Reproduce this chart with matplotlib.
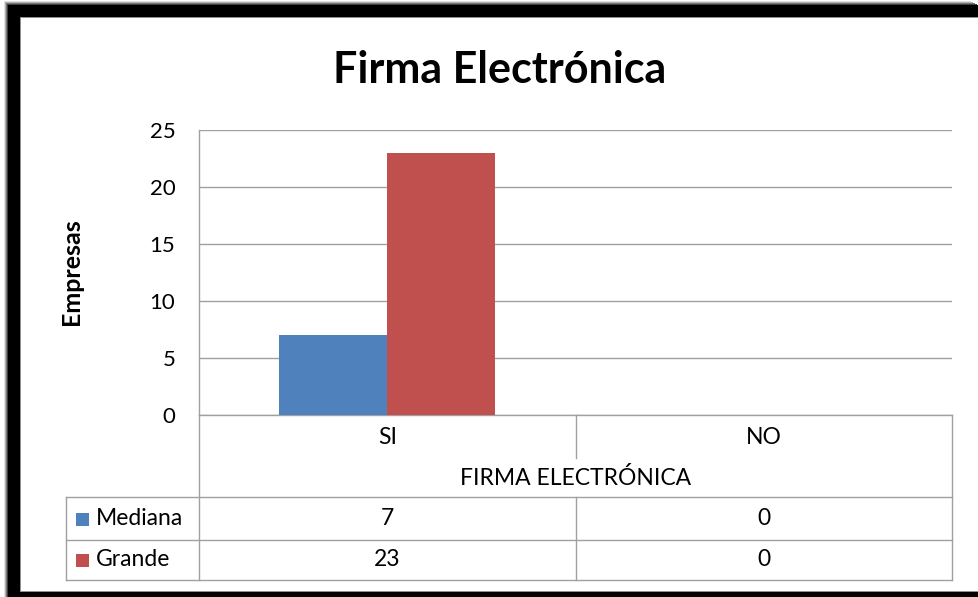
import matplotlib
matplotlib.use("Agg")
import matplotlib.pyplot as plt
from matplotlib.lines import Line2D
from matplotlib.patches import Rectangle

plt.rcParams['font.family'] = ['Lato', 'DejaVu Sans']

# ---- data ----
title = "Firma Electrónica"
ylabel = "Empresas"
group_label = "FIRMA ELECTRÓNICA"
categories = ["SI", "NO"]
series_names = ["Mediana", "Grande"]
mediana = [7, 0]
grande = [23, 0]
series_values = [mediana, grande]
series_colors = ["#4F81BD", "#C0504D"]
yticks = [0, 5, 10, 15, 20, 25]

W, H = 979, 597
fig = plt.figure(figsize=(W / 100, H / 100), dpi=100)
fig.patch.set_facecolor("white")


def P(x, y):
    return (x / W, 1 - y / H)


def box(x0, y0, x1, y1, color, z=0):
    fig.add_artist(Rectangle((x0 / W, 1 - y1 / H), (x1 - x0) / W, (y1 - y0) / H,
                             transform=fig.transFigure, facecolor=color,
                             edgecolor="none", zorder=z))


# ---- outer frame: top, left and bottom strips with a soft shadow ----
for i, g in enumerate(["#e0e0e0", "#b0b0b0", "#787878", "#404040"]):
    box(4 + i, 1 + i, W - 8 + 2 * i, 17, g)       # top shadow
    box(4 + i, 1 + i, 20, H, g)                     # left shadow
box(8, 5, W - 1, 17, "black")
box(8, 5, 20, H, "black")
box(8, 592, W - 1, H, "black")
box(20, 17, W - 1, 18, "#909090")
box(20, 17, 21, 592, "#909090")
box(20, 591, W - 1, 592, "#909090")

# ---- plot area ----
left, right, top, bottom = 199, 952, 130, 415
ax = fig.add_axes([left / W, 1 - bottom / H, (right - left) / W, (bottom - top) / H])
ax.set_facecolor("none")
ax.set_xlim(0, len(categories))
ax.set_ylim(0, 25)

grid_c = "#a0a0a0"
ax.set_yticks(yticks)
ax.set_yticklabels([str(t) for t in yticks])
ax.tick_params(axis="y", length=0, pad=17, labelsize=16, colors="black")
ax.set_xticks([])
ax.yaxis.grid(True, color=grid_c, linewidth=1.0)
ax.set_axisbelow(True)
for s in ["top", "right"]:
    ax.spines[s].set_visible(False)
for s in ["left", "bottom"]:
    ax.spines[s].set_color(grid_c)
    ax.spines[s].set_linewidth(1.0)

bw = 0.287
n = len(series_values)
for k, (vals, col) in enumerate(zip(series_values, series_colors)):
    xs = [i + 0.5 + (k - (n - 1) / 2) * bw for i in range(len(categories))]
    ax.bar(xs, vals, width=bw, color=col, edgecolor="none", zorder=3)

# ---- title and axis label ----
fig.text(*P(500, 83), title, ha="center", va="baseline", fontsize=31,
         fontweight="bold")
fig.text(*P(72, 272), ylabel, ha="center", va="center", rotation=90,
         fontsize=18, fontweight="bold")

# ---- data table ----
def hline(x0, x1, y):
    fig.add_artist(Line2D([x0 / W, x1 / W], [1 - y / H, 1 - y / H],
                          transform=fig.transFigure, color=grid_c, lw=1.0))


def vline(x, y0, y1):
    fig.add_artist(Line2D([x / W, x / W], [1 - y0 / H, 1 - y1 / H],
                          transform=fig.transFigure, color=grid_c, lw=1.0))


col_w = (right - left) / len(categories)
mid = [left + col_w * (i + 0.5) for i in range(len(categories))]
row_tops = [497, 540, 580]

vline(left, 415, 580)
vline(right, 415, 580)
for i in range(1, len(categories)):
    xb = left + col_w * i
    vline(xb, 415, 458)
    vline(xb, 497, 580)
hline(66, right, 497)
hline(66, right, 540)
hline(66, right, 580)
vline(66, 497, 580)

fs = 16.5
for i, c in enumerate(categories):
    fig.text(*P(mid[i], 437), c, ha="center", va="center", fontsize=fs)
fig.text(*P((left + right) / 2, 478), group_label, ha="center", va="center",
         fontsize=fs)

for r, (name, vals, col) in enumerate(zip(series_names, series_values, series_colors)):
    yc = (row_tops[r] + row_tops[r + 1]) / 2
    fig.add_artist(Rectangle(P(76, yc + 7), 13 / W, 13 / H,
                             transform=fig.transFigure, facecolor=col,
                             edgecolor="none"))
    fig.text(*P(96, yc), name, ha="left", va="center", fontsize=fs)
    for i, v in enumerate(vals):
        fig.text(*P(mid[i], yc), str(v), ha="center", va="center", fontsize=fs)

fig.savefig("out.png", dpi=100)
